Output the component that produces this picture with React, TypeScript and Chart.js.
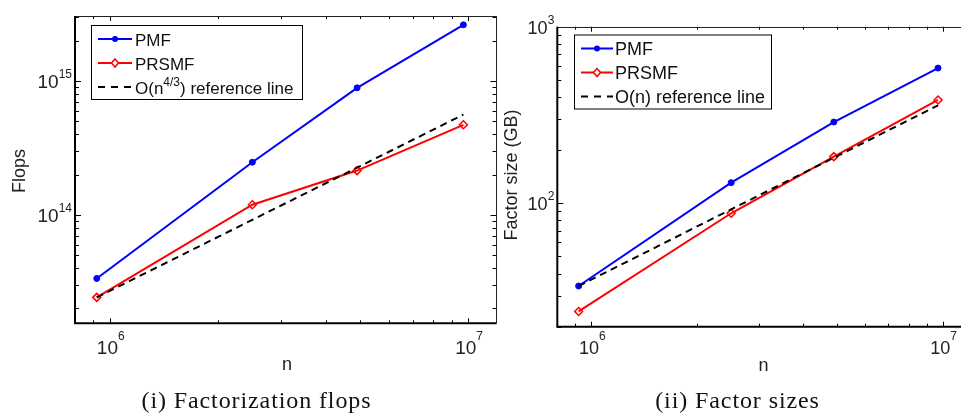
import React, { useEffect, useRef } from "react";
import { Chart, registerables } from "chart.js";

Chart.register(...registerables);

// ---------- data ----------
const nValues = [9.2e5, 2.5e6, 4.9e6, 9.7e6];
const flopsPMF = [3.35e13, 2.47e14, 8.87e14, 2.62e15];
const flopsPRSMF = [2.42e13, 1.19e14, 2.14e14, 4.7e14];
const flopsRef = [2.42e13, 9.18e13, 2.25e14, 5.6e14];
const sizePMF = [34.0, 130.8, 288.5, 583];
const sizePRSMF = [24.4, 87.8, 183.7, 384.6];
const sizeRef = [34.0, 92.4, 181.1, 358.5];

const seriesNames = ["PMF", "PRSMF"];
const flopsRefLabel = ["O(n", "4/3", ") reference line"];
const sizeRefLabel = ["O(n) reference line", "", ""];

const xTickExps = ["6", "7"];
const flopsTickExps = ["14", "15"];
const sizeTickExps = ["2", "3"];

const xLimits = [8e5, 1.2e7];
const flopsLimits = [1.55e13, 3.05e15];
const sizeLimits = [20, 1000];

const xTitle = "n";
const flopsTitle = "Flops";
const sizeTitle = "Factor size (GB)";
const captions = ["(i) Factorization flops", "(ii) Factor sizes"];

// ---------- styles ----------
const BLUE = "#0000ff";
const RED = "#ff0000";
const SANS = '"Liberation Sans", Arial, sans-serif';

type Panel = {
  id: string;
  canvasLeft: number;
  canvasWidth: number;
  padding: { left: number; top: number; right: number; bottom: number };
  yLimits: number[];
  yTickExps: string[];
  pmf: number[];
  prsmf: number[];
  ref: number[];
  refLabel: string[];
  yTitle: string;
  yTitleX: number;
  yTitleY: number;
  nX: number;
  nBaseline: number;
  xLabelBaseline: number;
  tickFont: number;
  legendLeft: number;
  legendTop: number;
  legendFont: number;
  sampleEnd: number;
  textOffset: number;
  rightPad: number;
};

function logTicks(min: number, max: number) {
  const out: { v: number; major: boolean }[] = [];
  const k0 = Math.floor(Math.log10(min));
  const k1 = Math.ceil(Math.log10(max));
  for (let k = k0; k <= k1; k++) {
    for (let m = 1; m <= 9; m++) {
      const v = m * Math.pow(10, k);
      if (v >= min * (1 - 1e-9) && v <= max * (1 + 1e-9)) out.push({ v, major: m === 1 });
    }
  }
  return out;
}

function drawSupText(
  ctx: CanvasRenderingContext2D,
  parts: string[],
  x: number,
  baseline: number,
  mainSize: number,
  supSize: number,
  shift: number,
  align: "left" | "center" | "right"
) {
  const mainFont = `${mainSize}px ${SANS}`;
  const supFont = `${supSize}px ${SANS}`;
  const widths = parts.map((t, i) => {
    ctx.font = i % 2 === 1 ? supFont : mainFont;
    return ctx.measureText(t).width;
  });
  const total = widths.reduce((a, b) => a + b, 0);
  let cx = align === "left" ? x : align === "center" ? x - total / 2 : x - total;
  ctx.textAlign = "left";
  ctx.textBaseline = "alphabetic";
  parts.forEach((t, i) => {
    const sup = i % 2 === 1;
    ctx.font = sup ? supFont : mainFont;
    ctx.fillText(t, cx, sup ? baseline - shift : baseline);
    cx += widths[i];
  });
  return total;
}

function framePlugin(p: Panel) {
  return {
    id: "frame" + p.id,
    afterDraw(chart: any) {
      const ctx: CanvasRenderingContext2D = chart.ctx;
      const a = chart.chartArea;
      const xs = chart.scales.x;
      const ys = chart.scales.y;
      ctx.save();

      // inward ticks on all four sides
      ctx.strokeStyle = "#000";
      ctx.lineWidth = 1;
      ctx.beginPath();
      for (const t of logTicks(xLimits[0], xLimits[1])) {
        const px = Math.round(xs.getPixelForValue(t.v)) + 0.5;
        const len = t.major ? 5 : 3;
        ctx.moveTo(px, a.bottom);
        ctx.lineTo(px, a.bottom - len);
        ctx.moveTo(px, a.top);
        ctx.lineTo(px, a.top + len);
      }
      for (const t of logTicks(p.yLimits[0], p.yLimits[1])) {
        const py = Math.round(ys.getPixelForValue(t.v)) + 0.5;
        const len = t.major ? 6 : 4;
        ctx.moveTo(a.left, py);
        ctx.lineTo(a.left + len, py);
        ctx.moveTo(a.right, py);
        ctx.lineTo(a.right - len, py);
      }
      ctx.stroke();

      // box: thin top/right, heavier left/bottom
      ctx.strokeStyle = "#222";
      ctx.lineWidth = 1;
      ctx.beginPath();
      ctx.moveTo(a.left, Math.round(a.top) + 0.5);
      ctx.lineTo(a.right, Math.round(a.top) + 0.5);
      ctx.moveTo(Math.round(a.right) - 0.5, a.top);
      ctx.lineTo(Math.round(a.right) - 0.5, a.bottom);
      ctx.stroke();
      ctx.strokeStyle = "#000";
      ctx.lineWidth = 2;
      ctx.beginPath();
      ctx.moveTo(a.left, a.top);
      ctx.lineTo(a.left, a.bottom);
      ctx.lineTo(a.right, a.bottom);
      ctx.stroke();

      // tick labels
      ctx.fillStyle = "#222";
      xTickExps.forEach((e) => {
        const px = xs.getPixelForValue(Math.pow(10, Number(e)));
        drawSupText(ctx, ["10", e], px + 1, p.xLabelBaseline, p.tickFont, 12, 14, "center");
      });
      p.yTickExps.forEach((e) => {
        const py = ys.getPixelForValue(Math.pow(10, Number(e)));
        drawSupText(ctx, ["10", e], a.left - 3, py + 7, p.tickFont, 12, 10, "right");
      });

      // axis titles
      ctx.fillStyle = "#222";
      ctx.font = `18px ${SANS}`;
      ctx.textAlign = "center";
      ctx.textBaseline = "alphabetic";
      ctx.fillText(xTitle, p.nX, p.nBaseline);
      ctx.save();
      ctx.translate(p.yTitleX, p.yTitleY);
      ctx.rotate(-Math.PI / 2);
      ctx.textBaseline = "middle";
      ctx.fillText(p.yTitle, 0, 0);
      ctx.restore();

      // legend
      const L = p.legendLeft;
      const T = p.legendTop;
      const labels = [[seriesNames[0]], [seriesNames[1]], p.refLabel];
      let maxW = 0;
      labels.forEach((parts) => {
        let w = 0;
        parts.forEach((t, i) => {
          ctx.font = i % 2 === 1 ? `12px ${SANS}` : `${p.legendFont}px ${SANS}`;
          w += ctx.measureText(t).width;
        });
        maxW = Math.max(maxW, w);
      });
      const W = Math.round(p.textOffset + maxW + p.rightPad);
      const H = 74;
      ctx.fillStyle = "#fff";
      ctx.fillRect(L, T, W, H);
      ctx.strokeStyle = "#000";
      ctx.lineWidth = 1;
      ctx.strokeRect(L + 0.5, T + 0.5, W, H);
      const rows = [14, 38, 62];
      const x1 = L + 7;
      const x2 = L + p.sampleEnd;
      const xm = (x1 + x2) / 2;
      // PMF
      let y = T + rows[0];
      ctx.strokeStyle = BLUE;
      ctx.lineWidth = 2;
      ctx.beginPath();
      ctx.moveTo(x1, y);
      ctx.lineTo(x2, y);
      ctx.stroke();
      ctx.fillStyle = BLUE;
      ctx.beginPath();
      ctx.arc(xm, y, 3, 0, Math.PI * 2);
      ctx.fill();
      // PRSMF
      y = T + rows[1];
      ctx.strokeStyle = RED;
      ctx.beginPath();
      ctx.moveTo(x1, y);
      ctx.lineTo(x2, y);
      ctx.stroke();
      ctx.lineWidth = 1.5;
      ctx.fillStyle = "#fff";
      ctx.beginPath();
      ctx.moveTo(xm, y - 4);
      ctx.lineTo(xm + 3.5, y);
      ctx.lineTo(xm, y + 4);
      ctx.lineTo(xm - 3.5, y);
      ctx.closePath();
      ctx.fill();
      ctx.stroke();
      // reference
      y = T + rows[2];
      ctx.strokeStyle = "#000";
      ctx.lineWidth = 2;
      ctx.setLineDash([7, 6]);
      ctx.beginPath();
      ctx.moveTo(x1, y);
      ctx.lineTo(x2, y);
      ctx.stroke();
      ctx.setLineDash([]);
      ctx.fillStyle = "#111";
      labels.forEach((parts, i) => {
        drawSupText(ctx, parts, L + p.textOffset, T + rows[i] + 6.5, p.legendFont, 12, 7.5, "left");
      });

      ctx.restore();
    },
  };
}

function makeChart(canvas: HTMLCanvasElement, p: Panel) {
  const toPts = (ys: number[]) => nValues.map((x, i) => ({ x, y: ys[i] }));
  return new Chart(canvas, {
    type: "line",
    data: {
      datasets: [
        {
          label: seriesNames[0],
          data: toPts(p.pmf),
          borderColor: BLUE,
          backgroundColor: BLUE,
          borderWidth: 2,
          pointStyle: "circle",
          pointRadius: 3,
          pointBackgroundColor: BLUE,
          pointBorderColor: BLUE,
          pointBorderWidth: 1,
          tension: 0,
          fill: false,
          order: 3,
        },
        {
          label: seriesNames[1],
          data: toPts(p.prsmf),
          borderColor: RED,
          backgroundColor: RED,
          borderWidth: 2,
          pointStyle: "rectRot",
          pointRadius: 4,
          pointBackgroundColor: "rgba(255,255,255,0)",
          pointBorderColor: RED,
          pointBorderWidth: 1.5,
          tension: 0,
          fill: false,
          order: 2,
        },
        {
          label: p.refLabel.join(""),
          data: toPts(p.ref),
          borderColor: "#000",
          borderWidth: 2,
          borderDash: [7, 5],
          pointRadius: 0,
          tension: 0,
          fill: false,
          order: 1,
        },
      ],
    },
    options: {
      responsive: false,
      animation: false,
      devicePixelRatio: 1,
      events: [],
      layout: { padding: p.padding },
      plugins: {
        legend: { display: false },
        tooltip: { enabled: false },
        title: { display: false },
      },
      scales: {
        x: {
          type: "logarithmic",
          min: xLimits[0],
          max: xLimits[1],
          ticks: { display: false },
          grid: { display: false },
          border: { display: false },
          afterFit: (s: any) => {
            s.height = 0;
          },
        },
        y: {
          type: "logarithmic",
          min: p.yLimits[0],
          max: p.yLimits[1],
          ticks: { display: false },
          grid: { display: false },
          border: { display: false },
          afterFit: (s: any) => {
            s.width = 0;
          },
        },
      },
    } as any,
    plugins: [framePlugin(p)],
  });
}

const H = 413;

const panels: Panel[] = [
  {
    id: "a",
    canvasLeft: 0,
    canvasWidth: 502,
    padding: { left: 75, top: 16, right: 502 - 499.5, bottom: H - 323.3 },
    yLimits: flopsLimits,
    yTickExps: flopsTickExps,
    pmf: flopsPMF,
    prsmf: flopsPRSMF,
    ref: flopsRef,
    refLabel: flopsRefLabel,
    yTitle: flopsTitle,
    yTitleX: 20,
    yTitleY: 171,
    nX: 287,
    nBaseline: 370,
    xLabelBaseline: 354,
    tickFont: 19,
    legendLeft: 91,
    legendTop: 25,
    legendFont: 17,
    sampleEnd: 41,
    textOffset: 44,
    rightPad: 9,
  },
  {
    id: "b",
    canvasLeft: 502,
    canvasWidth: 483,
    padding: { left: 557.3 - 502, top: 26.7, right: 985 - 970.5, bottom: H - 326.7 },
    yLimits: sizeLimits,
    yTickExps: sizeTickExps,
    pmf: sizePMF,
    prsmf: sizePRSMF,
    ref: sizeRef,
    refLabel: sizeRefLabel,
    yTitle: sizeTitle,
    yTitleX: 512 - 502,
    yTitleY: 175,
    nX: 763.5 - 502,
    nBaseline: 371,
    xLabelBaseline: 354,
    tickFont: 18,
    legendLeft: 574,
    legendTop: 34.5,
    legendFont: 18,
    sampleEnd: 39,
    textOffset: 41,
    rightPad: 6,
  },
].map((p) => ({ ...p, legendLeft: p.legendLeft - p.canvasLeft }));

function PanelCanvas({ p }: { p: Panel }) {
  const ref = useRef<HTMLCanvasElement | null>(null);
  useEffect(() => {
    if (!ref.current) return;
    const c = makeChart(ref.current, p);
    return () => c.destroy();
  }, [p]);
  return (
    <canvas
      ref={ref}
      width={p.canvasWidth}
      height={H}
      style={{
        position: "absolute",
        left: p.canvasLeft,
        top: 0,
        width: p.canvasWidth,
        height: H,
        display: "block",
      }}
    />
  );
}

const captionCenters = [256.5, 737.5];

export default function App() {
  return (
    <div
      style={{
        position: "absolute",
        left: 0,
        top: 0,
        width: 961,
        height: H,
        overflow: "hidden",
        background: "#fff",
      }}
    >
      {panels.map((p) => (
        <PanelCanvas key={p.id} p={p} />
      ))}
      {captions.map((c, i) => (
        <div
          key={c}
          style={{
            position: "absolute",
            left: captionCenters[i] - 200,
            width: 400,
            top: 388,
            lineHeight: "24px",
            textAlign: "center",
            whiteSpace: "nowrap",
            fontFamily: '"Liberation Serif", "Times New Roman", serif',
            fontSize: 24,
            letterSpacing: "0.9px",
            color: "#111",
          }}
        >
          {c}
        </div>
      ))}
    </div>
  );
}
